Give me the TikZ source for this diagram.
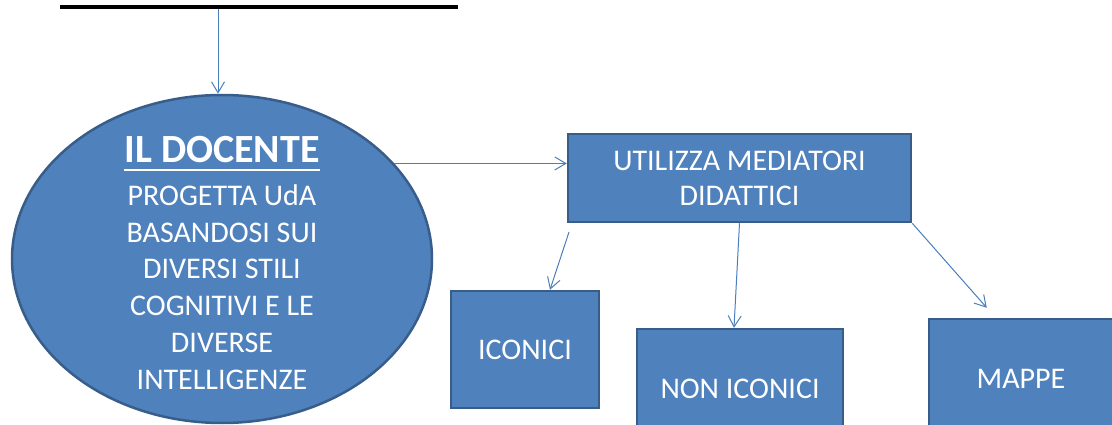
\documentclass[tikz,border=0pt]{standalone}
\usepackage{fontspec}
\setmainfont{Carlito}
\usetikzlibrary{shapes.geometric,arrows.meta,calc}
\definecolor{boxfill}{HTML}{4F81BD}
\definecolor{boxline}{HTML}{385D8A}
\definecolor{arrowc}{HTML}{4A7EBB}
\begin{document}
\begin{tikzpicture}[x=1pt,y=-1pt,
  shapebox/.style={draw=boxline, fill=boxfill, line width=2.5pt, text=white,
    font=\fontsize{30}{35}\selectfont, inner sep=0pt, align=center},
  whitetext/.style={text=white, inner sep=0pt, align=center},
  arr/.style={draw=arrowc, line width=1pt, -{Straight Barb[length=11pt,width=13pt]}}]
\path[use as bounding box, clip] (0,0) rectangle (1112,425);
\node[shapebox, ellipse, minimum width=420pt, minimum height=328pt] (docente) at (222,259) {};
\node[whitetext, anchor=base, font=\fontsize{40}{44}\selectfont\bfseries] (title) at (222,163) {IL DOCENTE};
\draw[white, line width=2.5pt] ($(title.base west)+(0,7)$) -- ($(title.base east)+(0,7)$);
\node[whitetext, font=\fontsize{30}{36.8}\selectfont] (body) at (222,287)
  {PROGETTA UdA\\BASANDOSI SUI\\DIVERSI STILI\\COGNITIVI E LE\\DIVERSE\\INTELLIGENZE};
\node[shapebox, minimum width=343pt, minimum height=88pt] (util) at (739.5,178) {UTILIZZA MEDIATORI\\DIDATTICI};
\node[shapebox, minimum width=148pt, minimum height=117pt] (iconici) at (525,349.5) {ICONICI};
\node[shapebox, minimum width=206pt, minimum height=120pt] (noniconici) at (740,389) {NON ICONICI};
\node[shapebox, minimum width=184pt, minimum height=120pt] (mappe) at (1021,379) {MAPPE};
\coordinate (lineL) at (60,7);
\coordinate (lineR) at (458,7);
\draw[line width=4pt] (lineL) -- (lineR);
\coordinate (lineA) at (218,9);
\draw[arr] (lineA) -- (lineA |- docente.north);
\draw[arr] (docente.29.5) -- (docente.29.5 -| util.west);
\coordinate (s1) at (569,232);
\draw[arr] (s1) -- ($(iconici.north)+(25,0)$);
\draw[arr] (util.south) -- ($(noniconici.north)+(-6,0)$);
\draw[arr] (util.south east) -- ($(mappe.north west)+(59,-10)$);
\end{tikzpicture}
\end{document}
